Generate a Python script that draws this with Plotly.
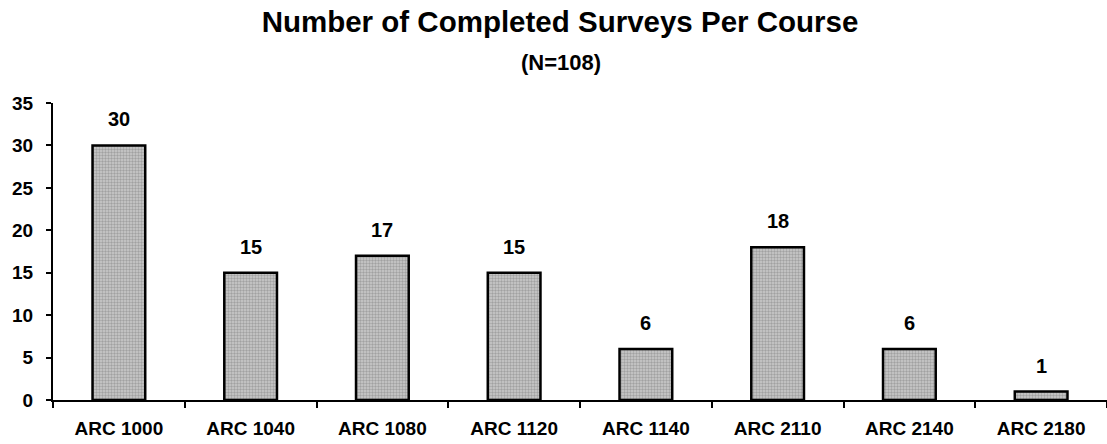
import plotly.graph_objects as go

# Data
courses = ['ARC 1000', 'ARC 1040', 'ARC 1080', 'ARC 1120',
           'ARC 1140', 'ARC 2110', 'ARC 2140', 'ARC 2180']
surveys = [30, 15, 17, 15, 6, 18, 6, 1]
total_n = 108

FONT = 'Arial, "Liberation Sans", sans-serif'
W, H = 1107, 444
L, T, B, R = 53, 103, 44, 0

fig = go.Figure()
fig.add_trace(go.Bar(
    x=courses, y=surveys, width=0.4,
    marker=dict(color='#a8a8a8', line=dict(color='black', width=2.5),
                pattern=dict(shape='.', fgcolor='#777777', bgcolor='#cbcbcb',
                             size=3, solidity=0.5)),
    showlegend=False, hoverinfo='x+y'))

# value labels above bars
for c, v in zip(courses, surveys):
    fig.add_annotation(x=c, y=v, text=f'<b>{v}</b>', showarrow=False,
                       yanchor='middle', yshift=26,
                       font=dict(family=FONT, size=20, color='black'))

# subtitle, placed in paper coordinates from pixel position
plot_w, plot_h = W - L - R, H - T - B
fig.add_annotation(x=(561 - L) / plot_w, y=(H - B - 62) / plot_h,
                   xref='paper', yref='paper', xanchor='center', yanchor='middle',
                   text=f'<b>(N={total_n})</b>', showarrow=False,
                   font=dict(family=FONT, size=22, color='black'))

fig.update_layout(
    width=W, height=H,
    paper_bgcolor='white', plot_bgcolor='white',
    margin=dict(l=L, r=R, t=T, b=B),
    font=dict(family=FONT, color='black'),
    title=dict(text='<b>Number of Completed Surveys Per Course</b>',
               x=560 / W, xanchor='center', y=1 - 22 / H, yanchor='middle',
               font=dict(family=FONT, size=29.5, color='black')),
)

fig.update_xaxes(type='category', showline=True, linecolor='black', linewidth=2,
                 ticks='outside', tickson='boundaries', ticklen=6, tickwidth=2,
                 tickcolor='black', showgrid=False, ticklabelstandoff=10,
                 tickfont=dict(family=FONT, size=19, color='black', weight='bold'))
fig.update_yaxes(range=[0, 35], dtick=5, showline=True, linecolor='black',
                 linewidth=2, ticks='outside', ticklen=5, tickwidth=2,
                 tickcolor='black', showgrid=False, zeroline=False,
                 ticklabelstandoff=9,
                 tickfont=dict(family=FONT, size=19, color='black', weight='bold'))

fig.write_html('out.html', config={'displayModeBar': False},
               post_script="document.body.style.margin='0';")
